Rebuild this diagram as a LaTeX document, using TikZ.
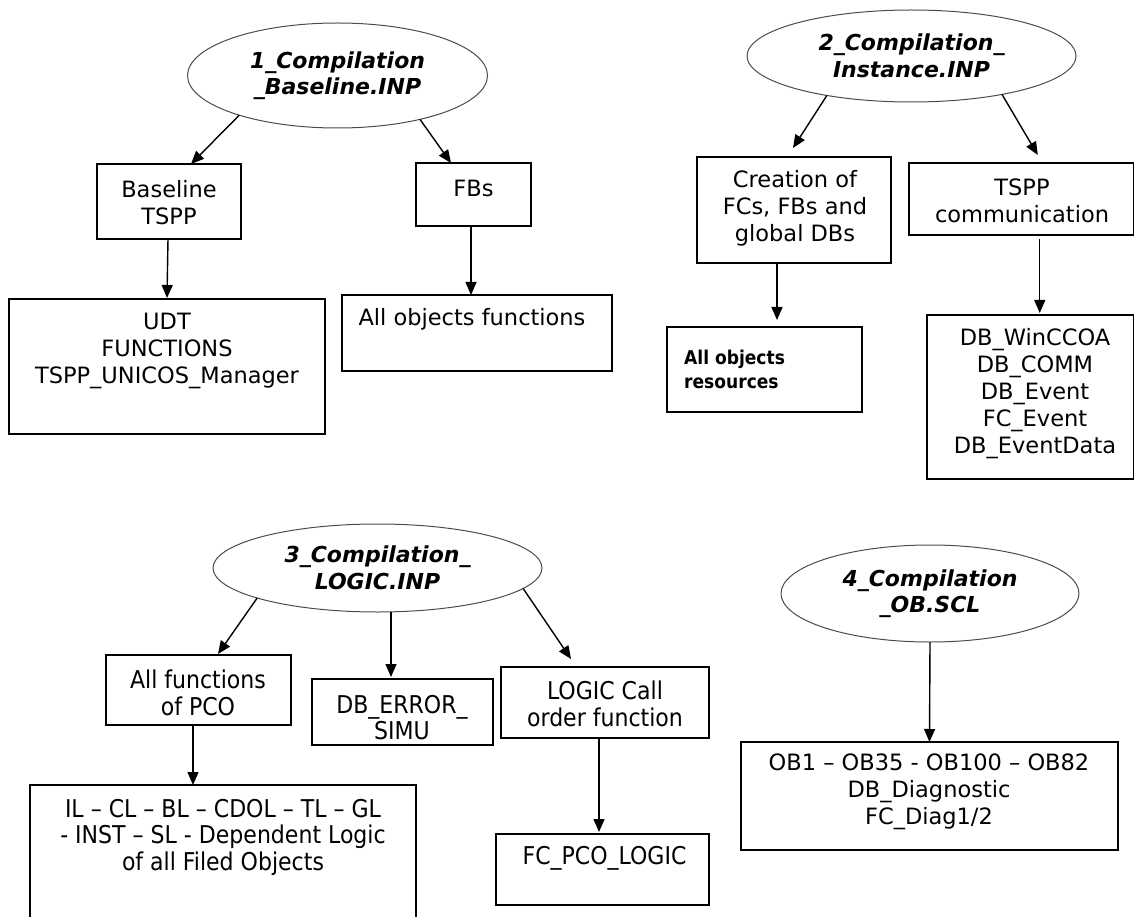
\documentclass[tikz,border=0pt]{standalone}
\usepackage{fontspec}
\setmainfont{DejaVu Sans}
\newfontfamily\condf{DejaVu Sans Condensed}
\usetikzlibrary{shapes.geometric,arrows.meta,calc}
\tikzset{
  box/.style={draw, line width=1.5pt, rectangle, inner sep=0pt, outer sep=0pt},
  ell/.style={draw=black!70, line width=1pt, ellipse, inner sep=0pt, outer sep=0pt,
              align=center, font=\fontsize{22}{26.5}\selectfont\bfseries\itshape},
  arr/.style={line width=1.4pt, -{Triangle[length=13pt,width=11pt]}},
  txt/.style={align=center, inner sep=0pt, font=\fontsize{22.5}{27}\selectfont},
  ctxt/.style={align=center, inner sep=0pt, font=\fontsize{24.5}{26.5}\selectfont\condf},
  stxt/.style={align=left, inner sep=0pt, anchor=west, font=\fontsize{19}{24}\selectfont\condf\bfseries},
}
\begin{document}
\begin{tikzpicture}[x=1pt,y=-1pt]
\useasboundingbox (0,0) rectangle (1135,917);
% ellipses
\node[ell, minimum width=300pt, minimum height=105pt] (e1) at (337.5,75.5) {1\_Compilation\\\_Baseline.INP};
\node[ell, minimum width=329pt, minimum height=92pt] (e2) at (911.5,56) {2\_Compilation\_\\Instance.INP};
\node[ell, minimum width=329pt, minimum height=88pt] (e3) at (377.5,568) {3\_Compilation\_\\LOGIC.INP};
\node[ell, minimum width=298pt, minimum height=97pt] (e4) at (930,593.5) {4\_Compilation\\\_OB.SCL};
% boxes
\node[box, minimum width=144pt, minimum height=75pt] (b1) at (169,201.5) {};
\node[box, minimum width=115pt, minimum height=63pt] (b2) at (473.5,194.5) {};
\node[box, minimum width=316pt, minimum height=135pt] (b3) at (167,366.5) {};
\node[box, minimum width=270pt, minimum height=76pt] (b4) at (477,333) {};
\node[box, minimum width=194pt, minimum height=106pt] (b5) at (794,210) {};
\node[box, minimum width=224.5pt, minimum height=72pt] (b6) at (1021.25,199) {};
\node[box, minimum width=195pt, minimum height=85pt] (b7) at (764.5,369.5) {};
\node[box, minimum width=206.5pt, minimum height=164pt] (b8) at (1030.25,397) {};
\node[box, minimum width=185pt, minimum height=70pt] (b9) at (198.5,690) {};
\node[box, minimum width=181pt, minimum height=66pt] (b10) at (402.5,712) {};
\node[box, minimum width=208pt, minimum height=71pt] (b11) at (605,702.5) {};
\node[box, minimum width=213pt, minimum height=71pt] (b12) at (602.5,869.5) {};
\node[box, minimum width=386pt, minimum height=155pt] (b13) at (223,862.5) {};
\node[box, minimum width=377pt, minimum height=108pt] (b14) at (929.5,796) {};
% texts
\node[txt] (b1t) at (169,202.5) {Baseline\\TSPP};
\node[txt] (b2t) at (473.5,188) {FBs};
\node[txt] (b3t) at (167,351) {UDT\\FUNCTIONS\\TSPP\_UNICOS\_Manager};
\node[txt] (b4t) at (472,319) {All objects functions};
\node[txt] (b5t) at (795,208.5) {Creation of\\FCs, FBs and\\global DBs};
\node[txt] (b6t) at (1022,200.5) {TSPP\\communication};
\node[stxt] (b7t) at (684,369) {All objects\\resources};
\node[txt] (b8t) at (1035,393.5) {DB\_WinCCOA\\DB\_COMM\\DB\_Event\\FC\_Event\\DB\_EventData};
\node[ctxt] (b9t) at (198,693) {All functions\\of PCO};
\node[ctxt] (b10t) at (402,717.5) {DB\_ERROR\_\\SIMU};
\node[ctxt] (b11t) at (605,704) {LOGIC Call\\order function};
\node[ctxt] (b12t) at (604.5,858) {FC\_PCO\_LOGIC};
\node[ctxt] (b13t) at (223,837) {IL – CL – BL – CDOL – TL – GL\\- INST – SL - Dependent Logic\\of all Filed Objects};
\node[txt] (b14t) at (929,792) {OB1 – OB35 - OB100 – OB82\\DB\_Diagnostic\\FC\_Diag1/2};
% arrows
\draw[arr] (e1.202) -- ($(b1.north)+(22,0)$);
\draw[arr] (e1.332) -- ($(b2.north)+(-22.5,0)$);
\draw[arr] ($(b1.south)+(-1,0)$) -- ($(b3.north)+(0,-1)$);
\draw[arr] ($(b2.south)+(-2.5,0)$) -- ($(b4.north)+(-6,0)$);
\draw[arr] (e2.205) -- ($(b5.north)+(-1,-9)$);
\draw[arr] (e2.337) -- ($(b6.north)+(16.5,-8)$);
\draw[arr] ($(b5.south)+(-17,0)$) -- ($(b7.north)+(12.5,-7)$);
\draw[arr] ($(b6.south)+(18.5,4)$) -- ($(b8.north)+(9.5,-2)$);
\draw[arr] (e3.194) -- ($(b9.north)+(19.5,-1)$);
\draw[arr] ($(e3.south)+(13.5,0)$) -- ($(b10.north)+(-11.5,-2)$);
\draw[arr] (e3.352) -- ($(b11.north)+(-34,-8)$);
\draw[arr] ($(b9.south)+(-5.5,0)$) -- ($(b13.north)+(-30,0)$);
\draw[arr] ($(b11.south)+(-6,0)$) -- ($(b12.north)+(-3.5,-2)$);
\draw[arr] (e4.south) -- (b14.north);
\end{tikzpicture}
\end{document}
